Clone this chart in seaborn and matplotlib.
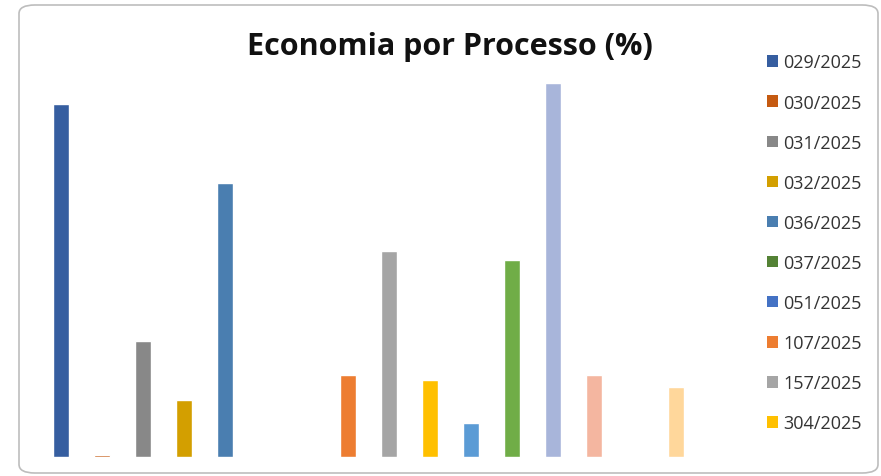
import matplotlib
matplotlib.use("Agg")
from matplotlib import pyplot as plt
from matplotlib.patches import FancyBboxPatch, Patch
import seaborn as sns
import pandas as pd

# legend in the picture is cut after 10 entries; last 6 names are not readable
processos = ['029/2025', '030/2025', '031/2025', '032/2025', '036/2025',
             '037/2025', '051/2025', '107/2025', '157/2025', '304/2025',
             'p11', 'p12', 'p13', 'p14', 'p15', 'p16']
economia = [35.3, 0.2, 11.6, 5.7, 27.4,
            0.0, 0.0, 8.2, 20.6, 7.7,
            3.4, 19.7, 37.4, 8.2, 0.0, 7.0]
cores = ['#365EA0', '#C55A11', '#888888', '#D39F00', '#4A7EB0',
         '#548235', '#4472C4', '#ED7D31', '#A5A5A5', '#FFC000',
         '#5B9BD5', '#70AD47', '#A8B5DA', '#F4B6A0', '#C9C9C9', '#FFD79B']
n_legenda = 10

df = pd.DataFrame({'processo': processos, 'economia': economia})

sns.set_style('white')
plt.rcParams['font.family'] = ['Open Sans', 'DejaVu Sans']

fig = plt.figure(figsize=(8.81, 4.77), dpi=100)
ax = fig.add_axes([0.046, 0.040, 0.7446, 0.79])

sns.barplot(data=df, x='processo', y='economia', hue='processo',
            palette=cores, width=0.39, saturation=1, legend=False, ax=ax)

ax.set_xlim(-0.5, len(processos) - 0.5)
ax.set_ylim(0, 37.7)
ax.set_axis_off()

fig.text(0.511, 0.902, 'Economia por Processo (%)', ha='center', va='center',
         fontsize=22, fontweight='bold', color='#111111')

handles = [Patch(facecolor=c, edgecolor='none') for c in cores[:n_legenda]]
fig.legend(handles, processos[:n_legenda], loc='upper left',
           bbox_to_anchor=(0.852, 0.92), frameon=False, fontsize=13,
           handlelength=0.6, handleheight=0.6, handletextpad=0.3,
           labelspacing=1.225, labelcolor='#333333')

# rounded frame around the chart
frame = FancyBboxPatch((19 / 881, 3 / 477), 859 / 881, 468 / 477,
                       boxstyle='round,pad=0,rounding_size=0.018',
                       transform=fig.transFigure, facecolor='none',
                       edgecolor='#BDBDBD', linewidth=1.2)
fig.patches.append(frame)

fig.savefig('out.png', dpi=100)
